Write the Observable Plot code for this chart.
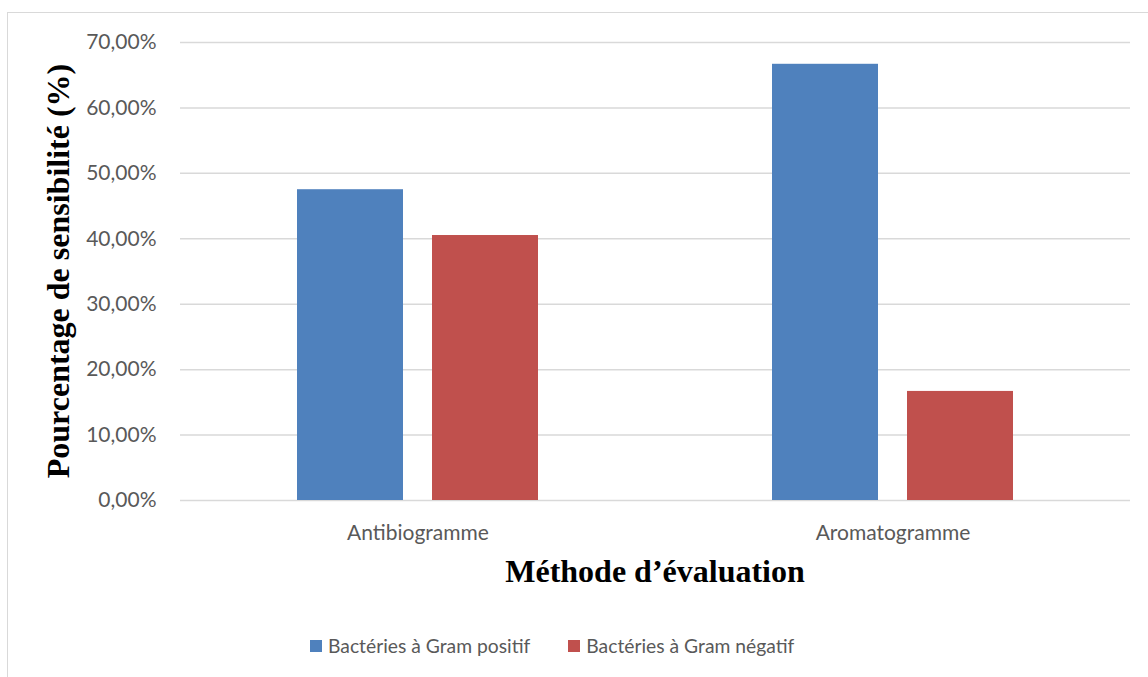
<!DOCTYPE html>
<html>
<head>
<meta charset="utf-8">
<script src="https://cdn.jsdelivr.net/npm/d3@7"></script>
<script src="https://cdn.jsdelivr.net/npm/@observablehq/plot@0.6"></script>
<style>
  html, body { margin: 0; padding: 0; background: #fff; width: 1148px; height: 677px; overflow: hidden; }
  #frame { position: absolute; left: 7px; top: 12px; width: 1200px; height: 700px; border: 1.5px solid #D9D9D9; box-sizing: border-box; }
  #chart { position: absolute; left: 0; top: 0; }
  #legend { position: absolute; left: 310px; top: 634px; display: flex; align-items: center; font-family: Lato, "Open Sans", sans-serif; font-size: 19.3px; color: #595959; white-space: nowrap; }
  #legend .item { display: flex; align-items: center; margin-right: 38px; }
  #legend .sw { width: 12px; height: 12px; margin-right: 6px; }
</style>
</head>
<body>
<div id="frame"></div>
<div id="chart"></div>
<div id="legend"></div>
<script>
const categories = ["Antibiogramme", "Aromatogramme"];
const series = ["Bactéries à Gram positif", "Bactéries à Gram négatif"];
const gramPositif = [47.5, 66.67];
const gramNegatif = [40.5, 16.67];
const seriesColors = ["#4F81BD", "#C0504D"];
const yTicks = [0, 10, 20, 30, 40, 50, 60, 70];
const yTitle = "Pourcentage de sensibilité (%)";
const xTitle = "Méthode d’évaluation";

const data = [];
categories.forEach((c, i) => {
  data.push({cat: c, series: series[0], value: gramPositif[i]});
  data.push({cat: c, series: series[1], value: gramNegatif[i]});
});

const W = 1148, H = 600, mL = 180, mR = 18, mT = 42, mB = 100;
const sansFont = "Lato, 'Open Sans', sans-serif";

const chart = Plot.plot({
  width: W, height: H,
  marginLeft: mL, marginRight: mR, marginTop: mT, marginBottom: mB,
  style: {fontFamily: sansFont, background: "transparent", overflow: "visible"},
  fx: {domain: categories, padding: 0, label: null},
  x: {domain: series, paddingInner: 0.213, paddingOuter: 0.853, axis: null},
  y: {domain: [0, 70], label: null},
  color: {domain: series, range: seriesColors},
  marks: [
    Plot.ruleY(yTicks, {stroke: "#D9D9D9", strokeWidth: 1.5}),
    Plot.barY(data, {fx: "cat", x: "series", y: "value", fill: "series"}),
    Plot.axisY(yTicks, {
      tickSize: 0, tickPadding: 24, label: null,
      tickFormat: d => d.toFixed(2).replace(".", ",") + "%",
      fontSize: 21, fill: "#595959"
    }),
    Plot.axisFx({anchor: "bottom", tickSize: 0, tickPadding: 25, label: null, fontSize: 21, fill: "#595959"})
  ]
});
document.getElementById("chart").appendChild(chart);

const svg = d3.select(chart);
const plotCenterX = mL + (W - mL - mR) / 2;
const plotCenterY = mT + (H - mT - mB) / 2;
svg.append("text")
  .attr("transform", `translate(69,${plotCenterY}) rotate(-90)`)
  .attr("text-anchor", "middle")
  .attr("font-family", "'Liberation Serif', 'Times New Roman', serif")
  .attr("font-weight", "bold")
  .attr("font-size", 32)
  .attr("fill", "#000")
  .text(yTitle);
svg.append("text")
  .attr("x", plotCenterX)
  .attr("y", 582)
  .attr("text-anchor", "middle")
  .attr("font-family", "'Liberation Serif', 'Times New Roman', serif")
  .attr("font-weight", "bold")
  .attr("font-size", 32)
  .attr("fill", "#000")
  .text(xTitle);

const legend = document.getElementById("legend");
series.forEach((s, i) => {
  const item = document.createElement("div");
  item.className = "item";
  const sw = document.createElement("div");
  sw.className = "sw";
  sw.style.background = seriesColors[i];
  const label = document.createElement("span");
  label.textContent = s;
  item.appendChild(sw);
  item.appendChild(label);
  legend.appendChild(item);
});
</script>
</body>
</html>
